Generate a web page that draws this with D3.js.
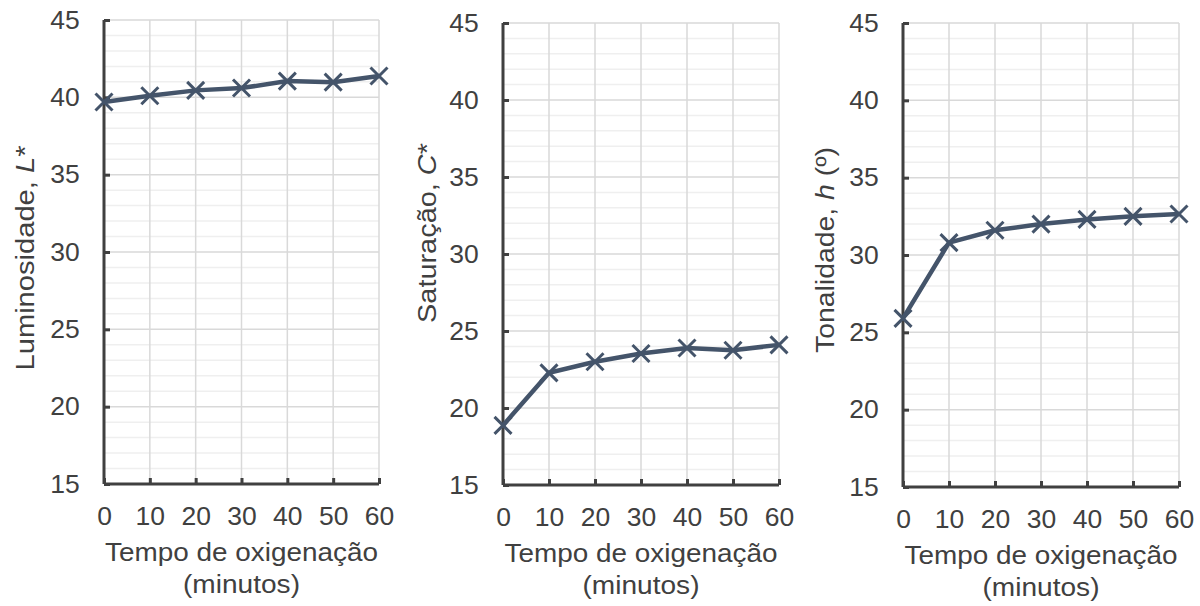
<!DOCTYPE html>
<html><head><meta charset="utf-8">
<script src="https://cdn.jsdelivr.net/npm/d3@7"></script>
<style>body{margin:0;background:#fff}svg{display:block}</style>
</head><body>
<svg id="c" width="1200" height="606"></svg>
<script>
const times = [0, 10, 20, 30, 40, 50, 60];
const luminosidade = [39.7, 40.1, 40.45, 40.6, 41.05, 40.98, 41.38];
const saturacao = [18.87, 22.28, 23.0, 23.54, 23.9, 23.75, 24.1];
const tonalidade = [25.9, 30.8, 31.6, 32.0, 32.3, 32.5, 32.65];
const yTicks = [15, 20, 25, 30, 35, 40, 45];
const xTicks = [0, 10, 20, 30, 40, 50, 60];
const xTitle = ["Tempo de oxigenação", "(minutos)"];

const panels = [
  {vals: luminosidade, title: ["Luminosidade, ", "L", "*"], left: 104, right: 379, top: 20, bottom: 484, tx: 25, ty: 258, tw: 225},
  {vals: saturacao, title: ["Saturação, ", "C", "*"], left: 503, right: 779, top: 23, bottom: 485, tx: 427, ty: 233, tw: 180},
  {vals: tonalidade, title: ["Tonalidade, ", "h", " (º)"], left: 903, right: 1179, top: 23, bottom: 487, tx: 825, ty: 250, tw: 206}
];
const xTitleW = [273, 117];

const svg = d3.select("#c");
const font = "'Liberation Sans', Arial, sans-serif";
const txt = "#404040";
const lineCol = "#44546A";

panels.forEach(p => {
  const x = d3.scaleLinear().domain([0, 60]).range([p.left, p.right]);
  const y = d3.scaleLinear().domain([15, 45]).range([p.bottom, p.top]);
  const g = svg.append("g");
  const minor = d3.range(15, 46, 1).filter(v => v % 5 !== 0);
  g.selectAll(".mn").data(minor).enter().append("line")
    .attr("x1", p.left).attr("x2", p.right).attr("y1", d => y(d)).attr("y2", d => y(d))
    .attr("stroke", "#efefef").attr("stroke-width", 1.5);
  g.selectAll(".mj").data(yTicks.slice(1)).enter().append("line")
    .attr("x1", p.left).attr("x2", p.right).attr("y1", d => y(d)).attr("y2", d => y(d))
    .attr("stroke", "#d9d9d9").attr("stroke-width", 1.5);
  g.selectAll(".vg").data(xTicks.slice(1)).enter().append("line")
    .attr("x1", d => x(d)).attr("x2", d => x(d)).attr("y1", p.top).attr("y2", p.bottom)
    .attr("stroke", "#d9d9d9").attr("stroke-width", 1.5);

  const ya = g.append("g").attr("transform", `translate(${p.left},0)`)
    .call(d3.axisLeft(y).tickValues(yTicks).tickSize(-6).tickPadding(23).tickFormat(d3.format("d")));
  const xa = g.append("g").attr("transform", `translate(0,${p.bottom})`)
    .call(d3.axisBottom(x).tickValues(xTicks).tickSize(-6).tickPadding(23).tickFormat(d3.format("d")));
  [ya, xa].forEach(a => {
    a.select(".domain").attr("stroke", "#404040").attr("stroke-width", 3);
    a.selectAll(".tick line").attr("stroke", "#404040").attr("stroke-width", 3);
    a.selectAll("text").attr("fill", txt).style("font-family", font).style("font-size", "25px")
      .attr("transform", "scale(1.06,1)");
  });
  ya.select(".domain").attr("d", `M0,${p.top}V${p.bottom}`);
  xa.select(".domain").attr("d", `M${p.left},0H${p.right}`);

  const cx = (p.left + p.right) / 2;
  xTitle.forEach((t, i) => {
    const el = g.append("text").attr("text-anchor", "middle").attr("fill", txt)
      .style("font-family", font).style("font-size", "26px").text(t);
    const w = el.node().getComputedTextLength();
    const k = xTitleW[i] / w;
    el.attr("transform", `translate(${cx},${p.bottom + 77 + i * 32}) scale(${k},1)`);
  });

  const yt = g.append("text").attr("text-anchor", "middle").attr("fill", txt)
    .attr("dy", "0.35em").style("font-family", font).style("font-size", "26px");
  yt.append("tspan").text(p.title[0]);
  yt.append("tspan").style("font-style", "italic").text(p.title[1]);
  yt.append("tspan").text(p.title[2]);
  const yw = yt.node().getComputedTextLength();
  yt.attr("transform", `translate(${p.tx},${p.ty}) rotate(-90) scale(${p.tw / yw},1)`);

  const data = times.map((t, i) => [t, p.vals[i]]);
  g.append("path").datum(data)
    .attr("d", d3.line().x(d => x(d[0])).y(d => y(d[1])))
    .attr("fill", "none").attr("stroke", lineCol).attr("stroke-width", 4.5);
  const s = 8.5;
  g.selectAll(".mk").data(data).enter().append("path")
    .attr("d", d => `M${x(d[0]) - s},${y(d[1]) - s}L${x(d[0]) + s},${y(d[1]) + s}M${x(d[0]) - s},${y(d[1]) + s}L${x(d[0]) + s},${y(d[1]) - s}`)
    .attr("stroke", lineCol).attr("stroke-width", 3).attr("fill", "none");
});
</script>
</body></html>
